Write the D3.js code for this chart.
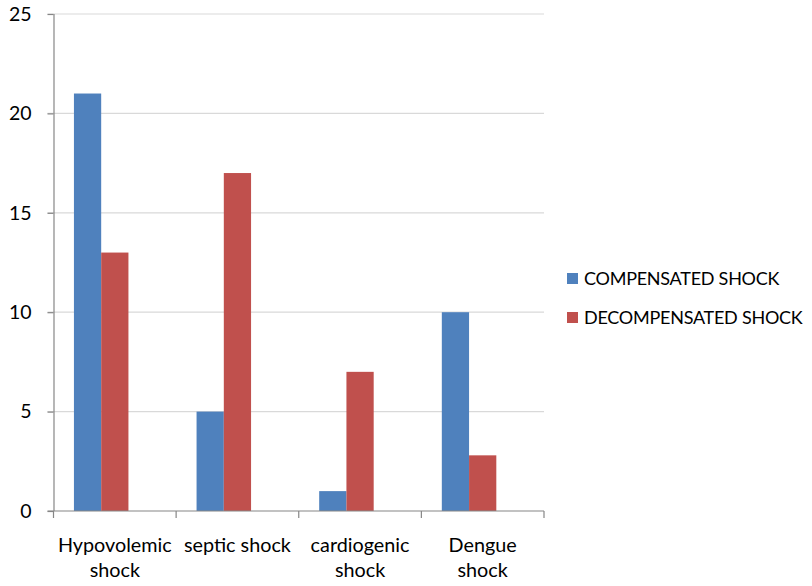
<!DOCTYPE html>
<html>
<head>
<meta charset="utf-8">
<script src="https://cdn.jsdelivr.net/npm/d3@7"></script>
<style>
  html, body { margin: 0; padding: 0; background: #fff; }
  svg { display: block; font-family: Lato, "Open Sans", sans-serif; }
</style>
</head>
<body>
<svg id="chart" width="812" height="586"></svg>
<script>
// Shock types and patient counts per series
const categories = [["Hypovolemic", "shock"], ["septic shock"], ["cardiogenic", "shock"], ["Dengue", "shock"]];
const compensated = [21, 5, 1, 10];
const decompensated = [13, 17, 7, 2.8];
const seriesNames = ["COMPENSATED SHOCK", "DECOMPENSATED SHOCK"];
const seriesColors = ["#4F81BD", "#C0504D"];
const yTicks = [0, 5, 10, 15, 20, 25];

const svg = d3.select("#chart");
const plot = { left: 53.5, right: 544, top: 14, bottom: 511 };

const x0 = d3.scaleBand()
  .domain(d3.range(categories.length))
  .range([plot.left, plot.right])
  .padding(0);

// three bar slots per category, 150% gap split over both sides
const x1 = d3.scaleBand()
  .domain([0, 1, 2])
  .range([0, x0.bandwidth()])
  .paddingInner(0)
  .paddingOuter(0.75);

const y = d3.scaleLinear().domain([0, 25]).range([plot.bottom, plot.top]);

// horizontal gridlines
svg.append("g")
  .selectAll("line")
  .data(yTicks.filter(d => d > 0))
  .join("line")
  .attr("x1", plot.left - 6).attr("x2", plot.right)
  .attr("y1", d => y(d)).attr("y2", d => y(d))
  .attr("stroke", "#D9D9D9").attr("stroke-width", 1.2);

// bars
const series = [compensated, decompensated];
series.forEach((vals, s) => {
  svg.append("g")
    .selectAll("rect")
    .data(vals)
    .join("rect")
    .attr("x", (d, i) => x0(i) + x1(s))
    .attr("width", x1.bandwidth())
    .attr("y", d => y(d))
    .attr("height", d => y(0) - y(d))
    .attr("fill", seriesColors[s]);
});

// y axis
const yAxis = svg.append("g")
  .attr("transform", `translate(${plot.left},0)`)
  .call(d3.axisLeft(y).tickValues(yTicks).tickSize(6).tickPadding(16));
yAxis.select(".domain").attr("stroke", "#868686").attr("stroke-width", 1.2)
  .attr("d", `M0.5,${plot.top}V${plot.bottom}`);
yAxis.selectAll(".tick line").attr("stroke", "#868686").attr("stroke-width", 1.2);
yAxis.selectAll(".tick text")
  .attr("font-size", 19.5).attr("fill", "#000")
  .attr("font-family", "Lato, 'Open Sans', sans-serif");

// x axis baseline and category tick marks
const xAxis = svg.append("g");
xAxis.append("line")
  .attr("x1", plot.left - 6).attr("x2", plot.right)
  .attr("y1", plot.bottom).attr("y2", plot.bottom)
  .attr("stroke", "#868686").attr("stroke-width", 1.2);
xAxis.selectAll("line.tk")
  .data(d3.range(categories.length + 1))
  .join("line")
  .attr("class", "tk")
  .attr("x1", i => i < categories.length ? x0(i) : plot.right)
  .attr("x2", i => i < categories.length ? x0(i) : plot.right)
  .attr("y1", plot.bottom).attr("y2", plot.bottom + 7)
  .attr("stroke", "#868686").attr("stroke-width", 1.2);

// category labels
const lbl = svg.append("g")
  .selectAll("text")
  .data(categories)
  .join("text")
  .attr("text-anchor", "middle")
  .attr("font-size", 19.8)
  .attr("fill", "#000");
lbl.each(function(lines, i) {
  const t = d3.select(this);
  lines.forEach((ln, k) => {
    t.append("tspan")
      .attr("x", x0(i) + x0.bandwidth() / 2)
      .attr("y", 552 + k * 25)
      .text(ln);
  });
});

// legend
const legend = svg.append("g")
  .selectAll("g")
  .data(seriesNames)
  .join("g")
  .attr("transform", (d, i) => `translate(567,${273 + i * 39})`);
legend.append("rect")
  .attr("width", 11).attr("height", 11)
  .attr("fill", (d, i) => seriesColors[i]);
legend.append("text")
  .attr("x", 17).attr("y", 11.5)
  .attr("font-size", 18)
  .attr("fill", "#000")
  .attr("letter-spacing", "-0.25")
  .text(d => d);
</script>
</body>
</html>
